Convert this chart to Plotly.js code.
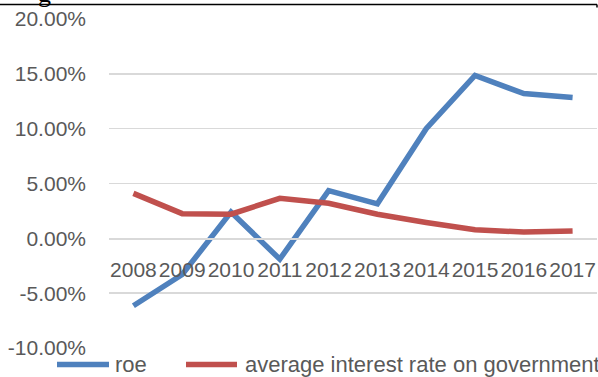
<!DOCTYPE html>
<html>
<head>
<meta charset="utf-8">
<script src="https://cdn.plot.ly/plotly-3.0.1.min.js"></script>
<style>html,body{margin:0;padding:0;background:#fff;overflow:hidden}#chart{width:598px;height:377px}</style>
</head>
<body>
<div id="chart"></div>
<script>
const years = ["2008","2009","2010","2011","2012","2013","2014","2015","2016","2017"];
const roe = [-0.0615, -0.033, 0.024, -0.019, 0.0435, 0.0315, 0.100, 0.1485, 0.132, 0.1285];
const govRate = [0.041, 0.0225, 0.022, 0.0365, 0.032, 0.022, 0.0145, 0.0078, 0.0057, 0.0068];
const seriesNames = ["roe", "average interest rate on government"];
const seriesColors = ["#4f81bd", "#c0504d"];
const yTicks = [-0.10, -0.05, 0, 0.05, 0.10, 0.15, 0.20];
const yTickLabels = ["-10.00%", "-5.00%", "0.00%", "5.00%", "10.00%", "15.00%", "20.00%"];

const FONT = "Liberation Sans, Arial, sans-serif";
const GREY = "#595959";
const W = 598, H = 377;
const M = {l: 109, r: 1, t: 19, b: 29};
const PW = W - M.l - M.r, PH = H - M.t - M.b;
const px = x => (x - M.l) / PW;          // pixel -> paper x
const py = y => (H - M.b - y) / PH;      // pixel -> paper y

const traces = [
  {x: years, y: roe, name: seriesNames[0], type: "scatter", mode: "lines",
   line: {color: seriesColors[0], width: 5.5}},
  {x: years, y: govRate, name: seriesNames[1], type: "scatter", mode: "lines",
   line: {color: seriesColors[1], width: 5.5}}
];

// manual legend (samples + labels), placed like the reference
const legendPos = [{s0: 57, s1: 109, tx: 113}, {s0: 186, s1: 237, tx: 243}];
const legendY = 364.5;
const legendShapes = legendPos.map((p, i) => ({
  type: "line", xref: "paper", yref: "paper",
  x0: px(p.s0), x1: px(p.s1), y0: py(legendY), y1: py(legendY),
  line: {color: seriesColors[i], width: 5.5}
}));
const legendTexts = legendPos.map((p, i) => ({
  text: seriesNames[i], xref: "paper", yref: "paper", x: px(p.tx), y: py(legendY - 0.5),
  xanchor: "left", yanchor: "middle", showarrow: false,
  font: {family: FONT, size: 22, color: GREY}
}));

const layout = {
  width: W, height: H,
  margin: Object.assign({autoexpand: false}, M),
  paper_bgcolor: "#ffffff", plot_bgcolor: "#ffffff",
  font: {family: FONT, size: 21, color: GREY},
  showlegend: false,
  xaxis: {type: "category", range: [-0.5, 9.5], anchor: "free", position: 1/3,
          showgrid: false, showline: true, linecolor: "#d9d9d9", linewidth: 1.5,
          ticks: "", tickangle: 0, ticklabelstandoff: 12, zeroline: false, fixedrange: true,
          tickfont: {family: FONT, size: 21, color: GREY}},
  yaxis: {range: [-0.10, 0.20], tickvals: yTicks, ticktext: yTickLabels,
          showgrid: true, gridcolor: "#d9d9d9", gridwidth: 1.5,
          zeroline: false, showline: false, ticks: "", ticklabelstandoff: 22, fixedrange: true,
          tickfont: {family: FONT, size: 21, color: GREY}},
  shapes: [
    {type: "line", xref: "paper", yref: "paper", x0: px(0), x1: px(597), y0: py(4.5), y1: py(4.5),
     line: {color: "#000000", width: 1.5}},
    {type: "line", xref: "paper", yref: "paper", x0: px(597), x1: px(597), y0: py(4.5), y1: py(7.5),
     line: {color: "#000000", width: 1.5}}
  ].concat(legendShapes),
  annotations: [
    {text: "g", xref: "paper", yref: "paper", x: px(44), y: py(-6), xanchor: "center", yanchor: "middle",
     showarrow: false, font: {family: "Liberation Serif, serif", size: 26, color: "#000000"}}
  ].concat(legendTexts)
};

Plotly.newPlot("chart", traces, layout, {displayModeBar: false, staticPlot: true});
</script>
</body>
</html>
